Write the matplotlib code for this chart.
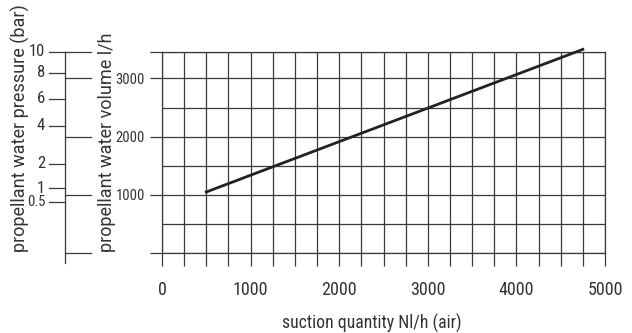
import matplotlib
matplotlib.use("Agg")
import matplotlib.pyplot as plt
import matplotlib.transforms as mtransforms
import numpy as np

plt.rcParams['font.family'] = ['Roboto Condensed', 'Liberation Sans Narrow', 'DejaVu Sans']
plt.rcParams['font.stretch'] = 'condensed'

# data
suction = [500, 4750]          # Nl/h (air)
volume = [1050, 3500]          # l/h
x_major = [0, 1000, 2000, 3000, 4000, 5000]
x_minor = np.arange(0, 5001, 250)
vol_ticks = [0, 1000, 2000, 3000, 3460]
vol_labels = ['', '1000', '2000', '3000', '']
vol_minor = [500, 1500, 2500]
pressure_labels = ['0.5', '1', '2', '4', '6', '8', '10']
pressure_at_volume = [883, 1113, 1531, 2184, 2648, 3100, 3460]

W, H = 632, 333
grid_c = '#3a3a3a'
text_c = '#333333'

fig = plt.figure(figsize=(W / 100, H / 100), dpi=100)
ax = fig.add_axes([162 / W, (H - 253.1) / H, 443 / W, (253.1 - 51.7) / H])
ax.set_xlim(0, 5000)
ax.set_ylim(0, 3460)

ax.set_xticks(x_major)
ax.set_xticks(x_minor, minor=True)
ax.set_xticklabels([str(v) for v in x_major])
ax.set_yticks(vol_ticks)
ax.set_yticklabels(vol_labels)
ax.set_yticks(vol_minor, minor=True)

ax.tick_params(axis='x', which='both', direction='out', length=9.4, width=0.9,
               color=grid_c, labelsize=13, labelcolor=text_c, pad=11)
ax.tick_params(axis='y', which='major', direction='out', length=8.6, width=0.9,
               color=grid_c, labelsize=10.5, labelcolor=text_c, pad=3.6)
ax.tick_params(axis='y', which='minor', length=0)
ax.grid(True, which='both', color=grid_c, lw=0.9)
for s in ax.spines.values():
    s.set_color(grid_c)
    s.set_linewidth(0.9)

ax.plot(suction, volume, color='#222222', lw=2, clip_on=False, zorder=5)

# left pressure scale, placed in figure pixels horizontally
trans = mtransforms.blended_transform_factory(fig.transFigure, ax.transData)
fx = lambda px: px / W
ax.plot([fx(65), fx(65)], [-170, 3460], transform=trans, color=grid_c, lw=0.9, clip_on=False)
for v, lab in zip(pressure_at_volume, pressure_labels):
    ax.plot([fx(49), fx(65)], [v, v], transform=trans, color=grid_c, lw=0.9, clip_on=False)
    ax.text(fx(45), v, lab, transform=trans, ha='right', va='center',
            fontsize=12 if lab != '0.5' else 10.5, color=text_c)
for v in vol_ticks:
    ax.plot([fx(65), fx(91)], [v, v], transform=trans, color=grid_c, lw=0.9, clip_on=False)

fig.text(20 / W, 1 - 252 / H, 'propellant water pressure (bar)', rotation=90,
         ha='center', va='bottom', fontsize=13, color=text_c,
         family='Roboto', fontstretch='normal')
fig.text(107 / W, 1 - 252 / H, 'propellant water volume l/h', rotation=90,
         ha='center', va='bottom', fontsize=13, color=text_c,
         family='Roboto', fontstretch='normal')
fig.text(372 / W, 1 - 323 / H, 'suction quantity Nl/h (air)',
         ha='center', va='center', fontsize=12.8, color=text_c)

fig.savefig('out.png', dpi=100)
